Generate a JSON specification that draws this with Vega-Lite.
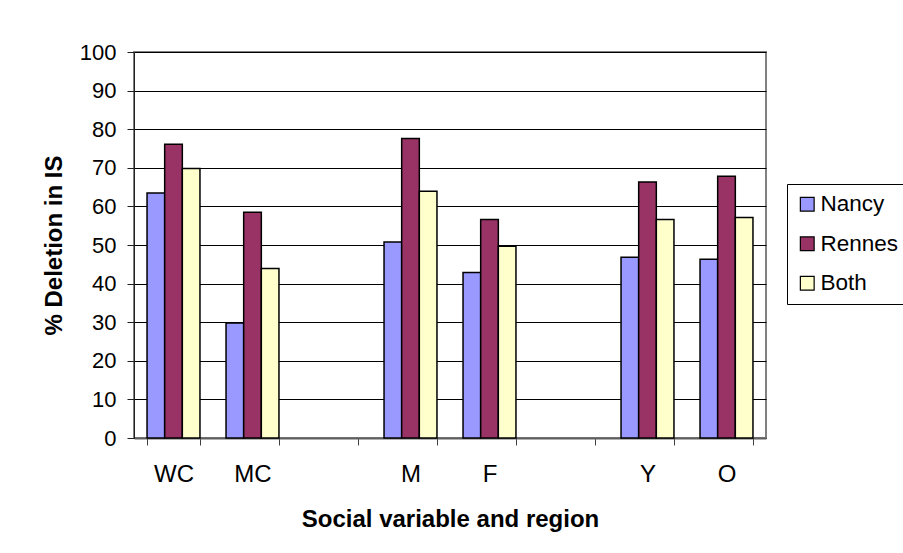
{
  "$schema": "https://vega.github.io/schema/vega-lite/v6.json",
  "width": 632,
  "height": 386,
  "autosize": {"type": "none"},
  "padding": {"left": 134, "top": 52, "right": 137, "bottom": 115},
  "background": "white",
  "config": {
    "font": "Liberation Sans",
    "view": {"stroke": "#808080", "strokeWidth": 2},
    "axis": {"labelColor": "black", "titleColor": "black", "labelFont": "Liberation Sans", "titleFont": "Liberation Sans"}
  },
  "data": {
    "values": [
      {"group": "WC", "region": "Nancy", "pct": 63.5},
      {"group": "WC", "region": "Rennes", "pct": 76.1},
      {"group": "WC", "region": "Both", "pct": 69.8},
      {"group": "MC", "region": "Nancy", "pct": 29.8},
      {"group": "MC", "region": "Rennes", "pct": 58.5},
      {"group": "MC", "region": "Both", "pct": 43.9},
      {"group": "M", "region": "Nancy", "pct": 50.8},
      {"group": "M", "region": "Rennes", "pct": 77.6},
      {"group": "M", "region": "Both", "pct": 63.9},
      {"group": "F", "region": "Nancy", "pct": 42.9},
      {"group": "F", "region": "Rennes", "pct": 56.6},
      {"group": "F", "region": "Both", "pct": 49.7},
      {"group": "Y", "region": "Nancy", "pct": 46.8},
      {"group": "Y", "region": "Rennes", "pct": 66.3},
      {"group": "Y", "region": "Both", "pct": 56.6},
      {"group": "O", "region": "Nancy", "pct": 46.3},
      {"group": "O", "region": "Rennes", "pct": 67.8},
      {"group": "O", "region": "Both", "pct": 57.1}
    ]
  },
  "mark": {"type": "bar", "stroke": "black", "strokeWidth": 1.5},
  "encoding": {
    "x": {
      "field": "group",
      "type": "nominal",
      "scale": {"domain": ["WC", "MC", " ", "M", "F", "  ", "Y", "O"], "paddingInner": 0.33, "paddingOuter": 0.165},
      "axis": {
        "title": "Social variable and region",
        "titleFontSize": 24,
        "titleFontWeight": "bold",
        "titlePadding": 21,
        "labelAngle": 0,
        "labelFontSize": 24,
        "labelPadding": 17,
        "tickBand": "extent",
        "tickSize": 7,
        "tickColor": "#404040",
        "domainColor": "#606060",
        "domainWidth": 2,
        "grid": false
      }
    },
    "xOffset": {
      "field": "region",
      "type": "nominal",
      "sort": ["Nancy", "Rennes", "Both"],
      "scale": {"paddingInner": 0, "paddingOuter": 0}
    },
    "y": {
      "field": "pct",
      "type": "quantitative",
      "scale": {"domain": [0, 100], "nice": false},
      "axis": {
        "title": "% Deletion in IS",
        "titleFontSize": 24,
        "titleFontWeight": "bold",
        "titlePadding": 13,
        "values": [0, 10, 20, 30, 40, 50, 60, 70, 80, 90, 100],
        "labelFontSize": 22,
        "labelPadding": 11,
        "tickSize": 7,
        "tickColor": "#202020",
        "domainColor": "#202020",
        "domainWidth": 1,
        "grid": true,
        "gridColor": "black",
        "gridWidth": 1
      }
    },
    "color": {
      "field": "region",
      "type": "nominal",
      "sort": ["Nancy", "Rennes", "Both"],
      "scale": {"domain": ["Nancy", "Rennes", "Both"], "range": ["#9999FF", "#993366", "#FFFFCC"]},
      "legend": {
        "title": null,
        "orient": "none",
        "legendX": 653,
        "legendY": 132,
        "strokeColor": "black",
        "fillColor": "white",
        "padding": 9,
        "symbolType": "square",
        "symbolSize": 190,
        "symbolStrokeColor": "black",
        "symbolStrokeWidth": 1.2,
        "symbolOpacity": 1,
        "labelFontSize": 22.5,
        "labelColor": "black",
        "labelOffset": 2,
        "rowPadding": 16.5
      }
    }
  }
}
